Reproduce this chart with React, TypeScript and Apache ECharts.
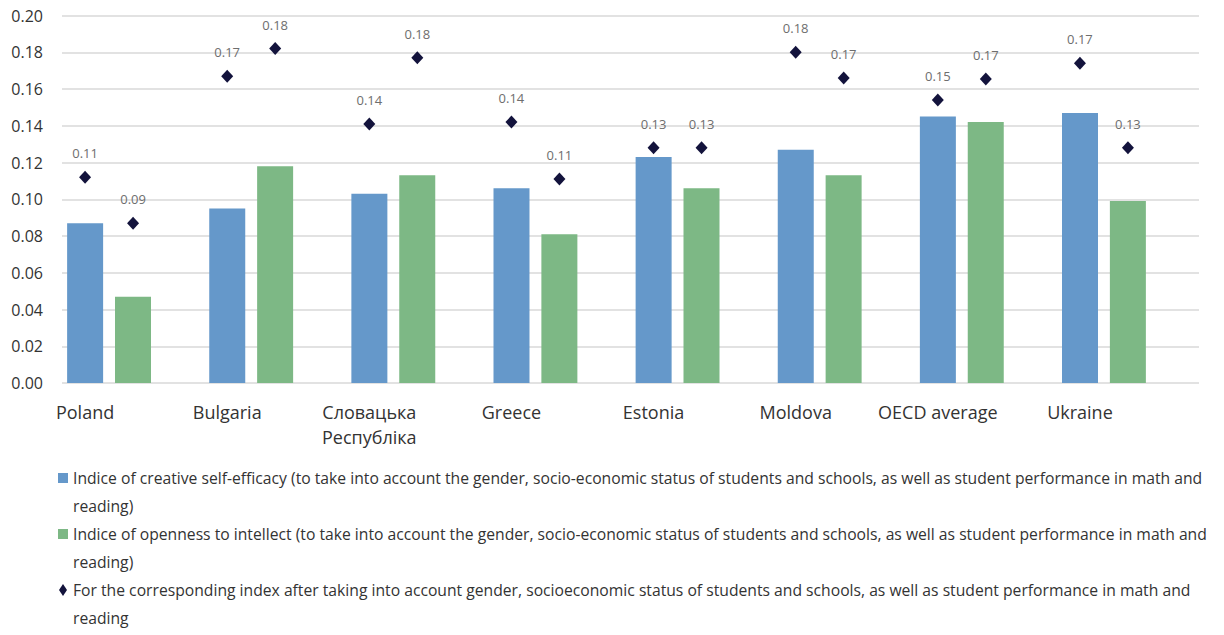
import React, { useEffect, useRef } from "react";
import * as echarts from "echarts";

const categories = ["Poland", "Bulgaria", "Словацька Республіка", "Greece", "Estonia", "Moldova", "OECD average", "Ukraine"];
const creativeSelfEfficacy = [0.087, 0.095, 0.103, 0.106, 0.123, 0.127, 0.145, 0.147];
const opennessToIntellect = [0.047, 0.118, 0.113, 0.081, 0.106, 0.113, 0.142, 0.099];
const adjustedCreative = [0.112, 0.167, 0.141, 0.142, 0.128, 0.18, 0.154, 0.174];
const adjustedOpenness = [0.087, 0.182, 0.177, 0.111, 0.128, 0.166, 0.1655, 0.128];
const yTicks = [0, 0.02, 0.04, 0.06, 0.08, 0.1, 0.12, 0.14, 0.16, 0.18, 0.2];

const nameBlue = "Indice of creative self-efficacy (to take into account the gender, socio-economic status of students and schools, as well as student performance in math and reading)";
const nameGreen = "Indice of openness to intellect (to take into account the gender, socio-economic status of students and schools, as well as student performance in math and reading)";
const nameDiamond = "For the corresponding index after taking into account gender, socioeconomic status of students and schools, as well as student performance in math and reading";

const BLUE = "#6598CA";
const GREEN = "#7DB885";
const NAVY = "#13133C";
const FONT = "'Open Sans', 'Noto Sans', sans-serif";

export default function App() {
  const ref = useRef<HTMLDivElement>(null);
  useEffect(() => {
    if (!ref.current) return;
    const chart = echarts.init(ref.current, null, { renderer: "svg" });
    const diamondLabel = {
      show: true,
      position: "top",
      distance: 11,
      color: "#6e6e6e",
      fontSize: 13,
      fontFamily: FONT,
      formatter: (p: any) => Number(p.value).toFixed(2),
    };
    chart.setOption({
      animation: false,
      backgroundColor: "#ffffff",
      grid: [
        { left: 62, right: 25, top: 15.5, bottom: 252 },
        { left: 38, width: 1137, top: 15.5, bottom: 252 },
      ],
      xAxis: [
        { type: "category", gridIndex: 0, data: categories, show: false },
        {
          type: "category",
          gridIndex: 1,
          data: categories,
          axisLine: { show: false },
          axisTick: { show: false },
          axisLabel: {
            interval: 0,
            margin: 16,
            color: "#333333",
            fontSize: 18,
            lineHeight: 25,
            fontFamily: FONT,
            padding: [0, 48, 0, 0],
            formatter: (v: string) => v.replace("Словацька ", "Словацька\n"),
          },
        },
      ],
      yAxis: [
        {
          type: "value",
          gridIndex: 0,
          min: yTicks[0],
          max: yTicks[yTicks.length - 1],
          interval: 0.02,
          axisLine: { show: false },
          axisTick: { show: false },
          axisLabel: {
            margin: 19,
            color: "#333333",
            fontSize: 16,
            fontFamily: FONT,
            formatter: (v: number) => v.toFixed(2),
          },
          splitLine: { lineStyle: { color: "#D9D9D9", width: 1.5 } },
        },
        { type: "value", gridIndex: 1, min: 0, max: 0.2, interval: 0.02, show: false },
      ],
      legend: {
        orient: "vertical",
        left: 53,
        top: 459,
        height: 300,
        itemWidth: 10,
        itemHeight: 56,
        itemGap: 0,
        selectedMode: false,
        data: [
          { name: nameBlue, icon: "path://M0,0M0,9h10v10h-10zM10,56" },
          { name: nameGreen, icon: "path://M0,0M0,9h10v10h-10zM10,56" },
          { name: nameDiamond, icon: "path://M0,0M5,8L9,14L5,20L1,14zM10,56" },
        ],
        formatter: (name: string) => {
          const i = name.lastIndexOf(" reading");
          return name.slice(0, i) + "\n" + name.slice(i + 1);
        },
        textStyle: { color: "#333333", fontSize: 15.7, lineHeight: 28, fontFamily: FONT },
      },
      series: [
        {
          name: nameBlue,
          type: "bar",
          xAxisIndex: 1,
          yAxisIndex: 1,
          data: creativeSelfEfficacy,
          barWidth: 36,
          barGap: "33%",
          itemStyle: { color: BLUE },
        },
        {
          name: nameGreen,
          type: "bar",
          xAxisIndex: 1,
          yAxisIndex: 1,
          data: opennessToIntellect,
          barWidth: 36,
          barGap: "33%",
          itemStyle: { color: GREEN },
        },
        {
          name: nameDiamond,
          type: "scatter",
          xAxisIndex: 1,
          yAxisIndex: 1,
          data: adjustedCreative,
          symbol: "diamond",
          symbolSize: [12, 13],
          symbolOffset: [-24, 0],
          itemStyle: { color: NAVY, opacity: 1 },
          label: diamondLabel,
          z: 5,
        },
        {
          name: nameDiamond,
          type: "scatter",
          xAxisIndex: 1,
          yAxisIndex: 1,
          data: adjustedOpenness,
          symbol: "diamond",
          symbolSize: [12, 13],
          symbolOffset: [24, 0],
          itemStyle: { color: NAVY, opacity: 1 },
          label: diamondLabel,
          z: 5,
        },
      ],
    });
    return () => chart.dispose();
  }, []);
  return (
    <div
      ref={ref}
      style={{ position: "fixed", left: 0, top: 0, width: 1224, height: 635, background: "#fff" }}
    />
  );
}
